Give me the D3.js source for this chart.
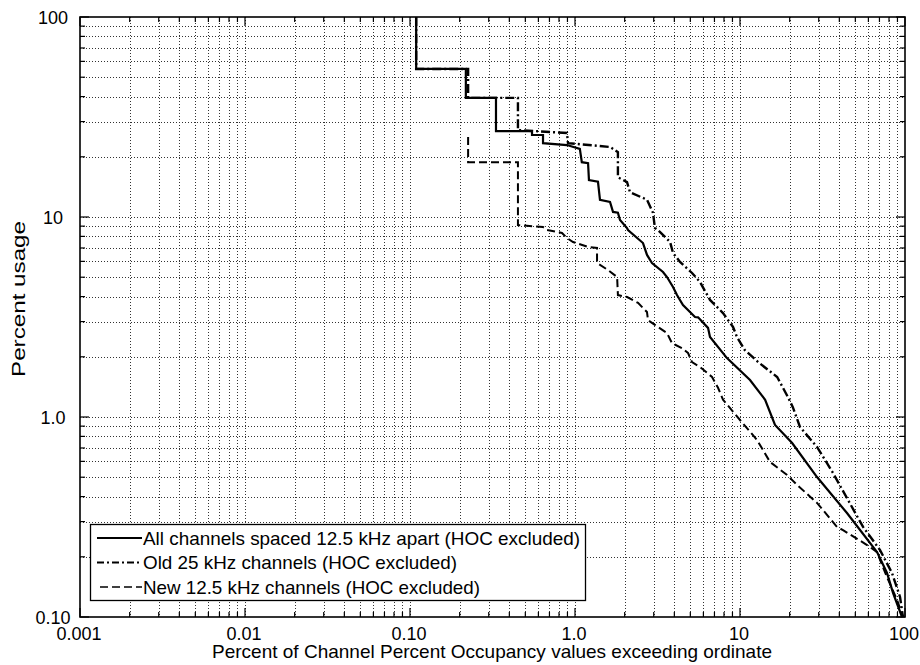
<!DOCTYPE html>
<html>
<head>
<meta charset="utf-8">
<script src="https://cdn.jsdelivr.net/npm/d3@7"></script>
<style>
  body { margin: 0; background: #fff; }
  text { font-family: Arial, "Liberation Sans", sans-serif; fill: #000; }
</style>
</head>
<body>
<script>
// tick labels
var xTickVals = [0.001, 0.01, 0.1, 1, 10, 100];
var xTickText = ["0.001", "0.01", "0.10", "1.0", "10", "100"];
var yTickVals = [0.1, 1, 10, 100];
var yTickText = ["0.10", "1.0", "10", "100"];

// All channels spaced 12.5 kHz apart (solid)
var allX = [0.109, 0.109, 0.218, 0.218, 0.332, 0.332, 0.549, 0.549, 0.64, 0.64, 0.894, 1.07, 1.10, 1.20, 1.215, 1.378, 1.417, 1.63, 1.70, 1.82, 1.874, 2.066, 2.095, 2.583, 2.732, 2.928, 3.415, 3.61, 3.926, 4.15, 4.513, 5.337, 5.57, 6.40, 6.58, 8.34, 11.5, 14.2, 16.3, 20.7, 29.3, 44.5, 67.7, 77.8, 84.6, 95.9];
var allY = [100, 55, 55, 39.4, 39.4, 26.9, 26.9, 25.7, 25.7, 23.4, 22.9, 21.9, 18.8, 18.6, 15.3, 15.0, 12.2, 11.9, 10.6, 10.5, 9.66, 8.81, 8.61, 7.41, 6.46, 5.89, 5.31, 5.01, 4.47, 4.07, 3.63, 3.16, 3.15, 2.79, 2.51, 1.97, 1.53, 1.22, 0.912, 0.741, 0.501, 0.331, 0.211, 0.166, 0.132, 0.1];

// Old 25 kHz channels (dash-dot)
var oldX = [0.109, 0.109, 0.225, 0.225, 0.451, 0.451, 0.894, 0.907, 1.63, 1.82, 1.82, 2.066, 2.154, 2.732, 2.97, 3.05, 3.18, 3.77, 3.926, 4.33, 5.12, 5.72, 6.58, 7.89, 9.07, 9.59, 10.7, 12.9, 16.8, 19.5, 20.9, 23.1, 29.3, 36.6, 55.7, 70.6, 83.4, 93.3, 97.2];
var oldY = [100, 55, 55, 39.4, 39.4, 27.2, 26.3, 23.4, 22.4, 21.1, 15.8, 14.96, 13.3, 12.2, 10.5, 8.81, 8.61, 7.50, 6.61, 5.96, 5.25, 4.73, 3.85, 3.31, 2.82, 2.51, 2.16, 1.88, 1.585, 1.26, 1.12, 0.891, 0.708, 0.525, 0.282, 0.216, 0.166, 0.126, 0.1];

// New 12.5 kHz channels (dashed)
var newX = [0.225, 0.225, 0.451, 0.451, 0.64, 0.677, 0.834, 0.894, 0.973, 1.20, 1.36, 1.36, 1.585, 1.80, 1.82, 2.07, 2.41, 2.73, 2.77, 3.18, 3.61, 3.87, 4.45, 4.84, 5.12, 5.72, 6.77, 7.36, 7.89, 10, 12.7, 15.2, 19.3, 22.2, 29.3, 38.7, 42.1, 58.9, 67.7, 77.8, 89.4, 97.2];
var newY = [25.1, 18.8, 18.8, 9.12, 8.91, 8.61, 8.32, 7.85, 7.50, 7.08, 7.0, 5.89, 5.43, 5.01, 4.07, 3.98, 3.72, 3.35, 3.05, 2.82, 2.63, 2.34, 2.21, 2.09, 1.88, 1.78, 1.585, 1.40, 1.22, 0.966, 0.767, 0.596, 0.513, 0.457, 0.372, 0.282, 0.272, 0.229, 0.211, 0.158, 0.122, 0.1];

var legendNames = ["All channels spaced 12.5 kHz apart (HOC excluded)",
                   "Old 25 kHz channels (HOC excluded)",
                   "New 12.5 kHz channels (HOC excluded)"];
var legendWidths = [437, 314, 337];
var dashes = ["none", "9,3,2,3", "8,4"];
var widths = [2.2, 2.4, 2];

var W = 920, H = 665;
var mL = 80, mR = 905, mT = 17, mB = 617;

var svg = d3.select("body").append("svg")
    .attr("width", W)
    .attr("height", H);

var x = d3.scaleLog().domain([0.001, 100]).range([mL, mR]);
var y = d3.scaleLog().domain([0.1, 100]).range([mB, mT]);

// minor positions 2..9 in each decade
var xMinor = [], yMinor = [];
[0.001, 0.01, 0.1, 1, 10].forEach(function(d) {
  for (var k = 2; k <= 9; k++) xMinor.push(d * k);
});
[0.1, 1, 10].forEach(function(d) {
  for (var k = 2; k <= 9; k++) yMinor.push(d * k);
});

var grid = svg.append("g")
    .attr("stroke", "#000")
    .attr("stroke-width", 1)
    .attr("stroke-dasharray", "1,2")
    .attr("opacity", 0.8);

grid.selectAll(".gx")
    .data(xMinor.concat([0.01, 0.1, 1, 10]))
  .enter().append("line")
    .attr("x1", function(d) { return Math.round(x(d)) + 0.5; })
    .attr("x2", function(d) { return Math.round(x(d)) + 0.5; })
    .attr("y1", mT)
    .attr("y2", mB);

grid.selectAll(".gy")
    .data(yMinor.concat([1, 10]))
  .enter().append("line")
    .attr("y1", function(d) { return Math.round(y(d)) + 0.5; })
    .attr("y2", function(d) { return Math.round(y(d)) + 0.5; })
    .attr("x1", mL)
    .attr("x2", mR);

// inward ticks on all four sides
function xAxis(g, pos, dir) {
  g.selectAll(".t")
      .data(xMinor)
    .enter().append("line")
      .attr("x1", function(d) { return x(d); })
      .attr("x2", function(d) { return x(d); })
      .attr("y1", pos)
      .attr("y2", pos + dir * 5);
  g.selectAll(".T")
      .data(xTickVals)
    .enter().append("line")
      .attr("x1", function(d) { return x(d); })
      .attr("x2", function(d) { return x(d); })
      .attr("y1", pos)
      .attr("y2", pos + dir * 9);
}
function yAxis(g, pos, dir) {
  g.selectAll(".t")
      .data(yMinor)
    .enter().append("line")
      .attr("y1", function(d) { return y(d); })
      .attr("y2", function(d) { return y(d); })
      .attr("x1", pos)
      .attr("x2", pos + dir * 5);
  g.selectAll(".T")
      .data(yTickVals)
    .enter().append("line")
      .attr("y1", function(d) { return y(d); })
      .attr("y2", function(d) { return y(d); })
      .attr("x1", pos)
      .attr("x2", pos + dir * 9);
}
var ticks = svg.append("g").attr("stroke", "#000").attr("stroke-width", 1.2);
xAxis(ticks.append("g"), mB, -1);
xAxis(ticks.append("g"), mT, 1);
yAxis(ticks.append("g"), mL, 1);
yAxis(ticks.append("g"), mR, -1);

// series
var line = d3.line()
    .x(function(d) { return x(d[0]); })
    .y(function(d) { return y(d[1]); });

var series = [d3.zip(allX, allY), d3.zip(oldX, oldY), d3.zip(newX, newY)];
[2, 1, 0].forEach(function(i) {
  svg.append("path")
      .attr("d", line(series[i]))
      .attr("fill", "none")
      .attr("stroke", "#000")
      .attr("stroke-width", widths[i])
      .attr("stroke-dasharray", dashes[i]);
});

// frame
svg.append("rect")
    .attr("x", mL)
    .attr("y", mT)
    .attr("width", mR - mL)
    .attr("height", mB - mT)
    .attr("fill", "none")
    .attr("stroke", "#000")
    .attr("stroke-width", 1.6);

// tick labels
svg.selectAll(".xl")
    .data(xTickVals)
  .enter().append("text")
    .attr("x", function(d) { return x(d) - 1; })
    .attr("y", 640)
    .attr("text-anchor", "middle")
    .attr("font-size", 18)
    .text(function(d, i) { return xTickText[i]; });

svg.selectAll(".yl")
    .data(yTickVals)
  .enter().append("text")
    .attr("x", 53)
    .attr("y", function(d) { return y(d) + 6.5; })
    .attr("text-anchor", "middle")
    .attr("font-size", 18)
    .text(function(d, i) { return yTickText[i]; });

// axis titles
svg.append("text")
    .attr("x", 492)
    .attr("y", 658)
    .attr("text-anchor", "middle")
    .attr("font-size", 19)
    .attr("textLength", 560)
    .attr("lengthAdjust", "spacingAndGlyphs")
    .text("Percent of Channel Percent Occupancy values exceeding ordinate");

svg.append("text")
    .attr("transform", "translate(25,299) rotate(-90)")
    .attr("text-anchor", "middle")
    .attr("font-size", 19)
    .attr("textLength", 156)
    .attr("lengthAdjust", "spacingAndGlyphs")
    .text("Percent usage");

// legend
var legend = svg.append("g");
legend.append("rect")
    .attr("x", 90.5)
    .attr("y", 524.5)
    .attr("width", 495)
    .attr("height", 76)
    .attr("fill", "#fff")
    .attr("stroke", "#000")
    .attr("stroke-width", 1.3);

var rows = legend.selectAll(".row")
    .data(legendNames)
  .enter().append("g")
    .attr("transform", function(d, i) { return "translate(0," + (538 + i * 24.5) + ")"; });

rows.append("line")
    .attr("x1", function(d, i) { return i === 2 ? 100 : 97; })
    .attr("x2", 142)
    .attr("stroke", "#000")
    .attr("stroke-width", function(d, i) { return widths[i] - 0.4; })
    .attr("stroke-dasharray", function(d, i) { return i === 1 ? "7,3,2,3" : dashes[i]; });

rows.append("text")
    .attr("x", 143)
    .attr("y", 6.5)
    .attr("font-size", 18.5)
    .attr("textLength", function(d, i) { return legendWidths[i]; })
    .attr("lengthAdjust", "spacingAndGlyphs")
    .text(function(d) { return d; });
</script>
</body>
</html>
